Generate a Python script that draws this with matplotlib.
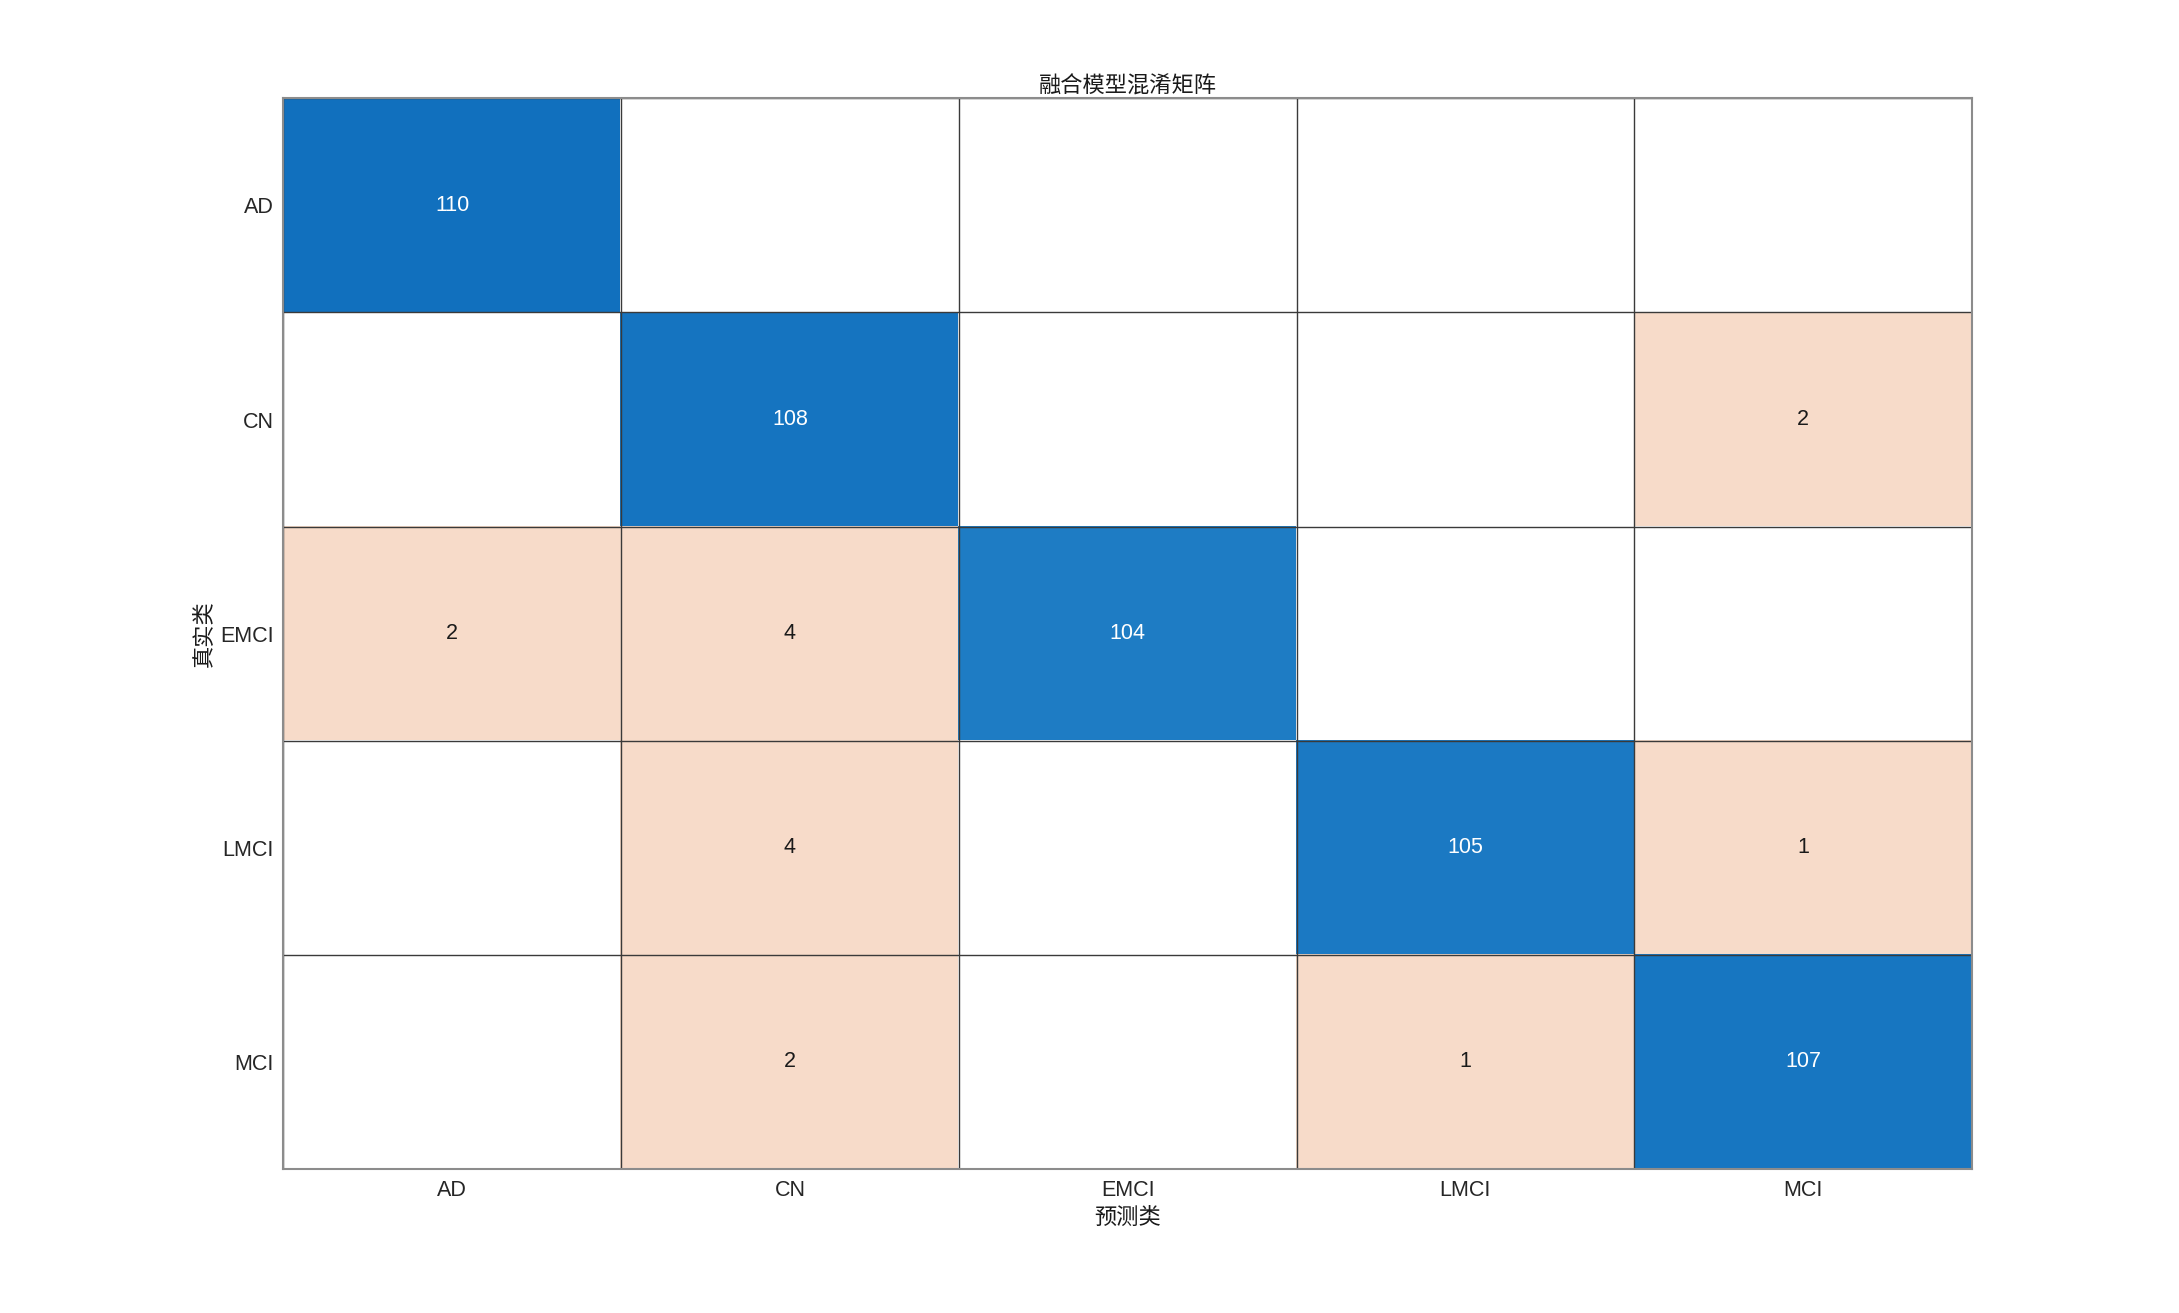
import numpy as np
import matplotlib
matplotlib.use("Agg")
import matplotlib.pyplot as plt
from matplotlib.colors import to_rgb

classes = ["AD", "CN", "EMCI", "LMCI", "MCI"]
cm = np.array([
    [110, 0, 0, 0, 0],
    [0, 108, 0, 0, 2],
    [2, 4, 104, 0, 0],
    [0, 4, 0, 105, 1],
    [0, 2, 0, 1, 107],
])
title = "融合模型混淆矩阵"
xlabel = "预测类"
ylabel = "真实类"

plt.rcParams['font.family'] = ['Liberation Sans', 'Noto Sans CJK SC', 'DejaVu Sans']

fig = plt.figure(figsize=(21.79, 13.13), dpi=100)
ax = fig.add_axes([0.13, 0.11, 0.775, 0.815])

n = len(classes)
dark_blue = np.array(to_rgb('#1170BE'))
light_blue = np.array(to_rgb('#1E7CC4'))
peach = np.array(to_rgb('#F7DBC9'))
white = np.ones(3)
diag = np.diag(cm)
rgb = np.zeros((n, n, 3))
for i in range(n):
    for j in range(n):
        v = cm[i, j]
        if v == 0:
            rgb[i, j] = white
        elif i == j:
            t = (v - diag.min()) / max(diag.max() - diag.min(), 1)
            rgb[i, j] = light_blue + (dark_blue - light_blue) * t
        else:
            rgb[i, j] = peach

ax.imshow(rgb, aspect='auto', interpolation='nearest')
for i in range(n):
    for j in range(n):
        v = cm[i, j]
        if v != 0:
            ax.text(j, i, str(v), ha='center', va='center', fontsize=15.5,
                    color='white' if i == j else '#1a1a1a')

ax.set_xticks(range(n))
ax.set_xticklabels(classes, fontsize=15.5, color='#262626')
ax.set_yticks(range(n))
ax.set_yticklabels(classes, fontsize=15.5, color='#262626')
ax.tick_params(axis='x', length=0, pad=8)
ax.tick_params(axis='y', length=0, pad=7)
ax.set_xticks(np.arange(-0.5, n, 1), minor=True)
ax.set_yticks(np.arange(-0.5, n, 1), minor=True)
ax.grid(which='minor', color='#3a3a3a', linewidth=1.0)
ax.tick_params(which='minor', length=0)
for s in ax.spines.values():
    s.set_color('#8c8c8c')
    s.set_linewidth(1.5)

ax.set_title(title, fontsize=16, color='#1a1a1a', pad=4,
             family=['Noto Sans CJK SC', 'DejaVu Sans'])
ax.set_xlabel(xlabel, fontsize=16, color='#1a1a1a', labelpad=4,
              family=['Noto Sans CJK SC', 'DejaVu Sans'])
ax.set_ylabel(ylabel, fontsize=16, color='#1a1a1a', labelpad=4,
              family=['Noto Sans CJK SC', 'DejaVu Sans'])

fig.savefig("out.png", dpi=100, facecolor='white')
